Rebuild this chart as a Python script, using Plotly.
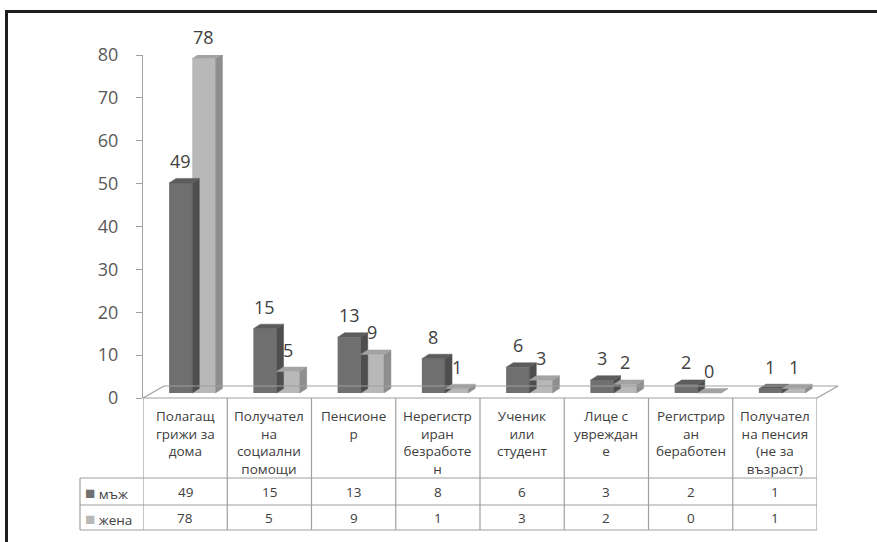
import plotly.graph_objects as go

# ---- data -------------------------------------------------------------
categories = [
    "Полагащ<br>грижи за<br>дома",
    "Получател<br>на<br>социални<br>помощи",
    "Пенсионе<br>р",
    "Нерегистр<br>иран<br>безработе<br>н",
    "Ученик<br>или<br>студент",
    "Лице с<br>увреждан<br>е",
    "Регистрир<br>ан<br>беработен",
    "Получател<br>на пенсия<br>(не за<br>възраст)",
]
men = [49, 15, 13, 8, 6, 3, 2, 1]
women = [78, 5, 9, 1, 3, 2, 0, 1]
series_names = ["мъж", "жена"]
y_ticks = [0, 10, 20, 30, 40, 50, 60, 70, 80]

# ---- geometry helpers --------------------------------------------------
W, H = 877, 542


def px(x):
    return x / W


def py(y):
    return 1 - y / H


X0, X1 = 143, 817          # plot area left / right (pixels)
Y0, Y80 = 398, 55          # pixel rows of value 0 and 80
n = len(categories)
ux = (X1 - X0) / n         # pixels per category
uy = (Y0 - Y80) / 80.0     # pixels per unit value

LIFT = 5 / uy              # bars stand in the middle of the floor depth
DX = 7 / ux                # bar depth (x, data units)
DY = 4.5 / uy              # bar depth (y, data units)
BW = 0.275                 # bar width
OFF = [-0.19, -0.19 + BW]  # bar offsets per series

FRONT = ["#6f6f6f", "#b8b8b8"]
SIDE = ["#4e4e4e", "#8e8e8e"]
TOP = ["#5c5c5c", "#a3a3a3"]

FONT = "Open Sans"
TXT = "#404040"
GRID = "#a0a0a0"

fig = go.Figure()

# value axis carrier (keeps the tick axis drawn)
fig.add_trace(go.Scatter(
    x=[-0.5] * len(y_ticks), y=y_ticks, mode="markers",
    marker=dict(opacity=0, size=1), hoverinfo="skip", showlegend=False,
))

positions = list(range(n))
annotations = []

for s, vals in enumerate([men, women]):
    fig.add_trace(go.Bar(
        x=positions, y=vals, width=BW, offset=OFF[s],
        marker=dict(color=FRONT[s], line=dict(width=0)),
        yaxis="y2", hoverinfo="skip", name=series_names[s],
    ))
    sx, sy, tx, ty = [], [], [], []
    for i, v in enumerate(vals):
        l = i + OFF[s]
        r = l + BW
        sx += [r, r + DX, r + DX, r, r, None]
        sy += [0, DY, v + DY, v, 0, None]
        tx += [l, l + DX, r + DX, r, l, None]
        ty += [v, v + DY, v + DY, v, v, None]
        annotations.append(dict(
            x=l + BW / 2, y=v, xref="x", yref="y2", yshift=22,
            text=str(v), showarrow=False, yanchor="middle",
            font=dict(family=FONT, size=18, color=TXT),
        ))
    fig.add_trace(go.Scatter(
        x=sx, y=sy, fill="toself", fillcolor=SIDE[s], mode="lines",
        line=dict(color=SIDE[s], width=0.5), yaxis="y2",
        hoverinfo="skip", showlegend=False,
    ))
    fig.add_trace(go.Scatter(
        x=tx, y=ty, fill="toself", fillcolor=TOP[s], mode="lines",
        line=dict(color=TOP[s], width=0.5), yaxis="y2",
        hoverinfo="skip", showlegend=False,
    ))

# ---- data table under the chart -----------------------------------------
ROW_TOP, ROW_MID, ROW_BOT = 478, 505, 530
for i, cat in enumerate(categories):
    annotations.append(dict(
        x=i, y=py(405), xref="x", yref="paper", yanchor="top",
        text=cat, showarrow=False, align="center",
        font=dict(family=FONT, size=13.5, color=TXT),
    ))
    for vals, yc in ((men, 492), (women, 518)):
        annotations.append(dict(
            x=i, y=py(yc), xref="x", yref="paper", yanchor="middle",
            text=str(vals[i]), showarrow=False,
            font=dict(family=FONT, size=13.5, color=TXT),
        ))

for s, yc in enumerate((492, 518)):
    annotations.append(dict(
        x=px(83), y=py(yc), xref="paper", yref="paper",
        xanchor="left", yanchor="middle", showarrow=False,
        text=f"<span style='color:{FRONT[s]};font-size:17px'>■</span> {series_names[s]}",
        font=dict(family=FONT, size=13.5, color=TXT),
    ))

shapes = []
line = dict(color=GRID, width=1.2)
# column separators
for k in range(n + 1):
    shapes.append(dict(type="line", xref="x", yref="paper",
                       x0=k - 0.5, x1=k - 0.5, y0=py(Y0), y1=py(ROW_BOT), line=line))
# row separators
for yy in (ROW_TOP, ROW_MID, ROW_BOT):
    shapes.append(dict(type="line", xref="paper", yref="paper",
                       x0=px(80), x1=px(X1), y0=py(yy), y1=py(yy), line=line))
shapes.append(dict(type="line", xref="paper", yref="paper",
                   x0=px(80), x1=px(80), y0=py(ROW_TOP), y1=py(ROW_BOT), line=line))

# floor of the 3-D plot
FD_X, FD_Y = 21, 12
shapes += [
    dict(type="line", xref="paper", yref="paper", x0=px(X0), x1=px(X1),
         y0=py(Y0), y1=py(Y0), line=line),
    dict(type="line", xref="paper", yref="paper", x0=px(X0 + FD_X), x1=px(X1 + FD_X),
         y0=py(Y0 - FD_Y), y1=py(Y0 - FD_Y), line=line),
    dict(type="line", xref="paper", yref="paper", x0=px(X0), x1=px(X0 + FD_X),
         y0=py(Y0), y1=py(Y0 - FD_Y), line=line),
    dict(type="line", xref="paper", yref="paper", x0=px(X1), x1=px(X1 + FD_X),
         y0=py(Y0), y1=py(Y0 - FD_Y), line=line),
]

# outer frame
frame = dict(color="#1e1e1e", width=3)
shapes += [
    dict(type="line", xref="paper", yref="paper", x0=px(6.5), x1=px(6.5),
         y0=py(10), y1=0, line=frame),
    dict(type="line", xref="paper", yref="paper", x0=px(5), x1=1,
         y0=py(11.5), y1=py(11.5), line=frame),
]

fig.update_layout(
    width=W, height=H,
    margin=dict(l=0, r=0, t=0, b=0, autoexpand=False),
    paper_bgcolor="white", plot_bgcolor="white",
    showlegend=False, barmode="overlay",
    xaxis=dict(domain=[px(X0), px(X1)], range=[-0.5, n - 0.5],
               visible=False, fixedrange=True, automargin=False),
    yaxis=dict(domain=[py(Y0), py(Y80)], range=[0, 80], tickvals=y_ticks,
               ticks="outside", ticklen=6, tickcolor=GRID, showline=True,
               linecolor=GRID, linewidth=1.2, showgrid=False, zeroline=False,
               ticklabelstandoff=14, automargin=False,
               tickfont=dict(family=FONT, size=18, color="#595959")),
    yaxis2=dict(overlaying="y", domain=[py(Y0), py(Y80)],
                range=[-LIFT, 80 - LIFT], visible=False, automargin=False),
    annotations=annotations,
    shapes=shapes,
)

fig.write_html("out.html")
